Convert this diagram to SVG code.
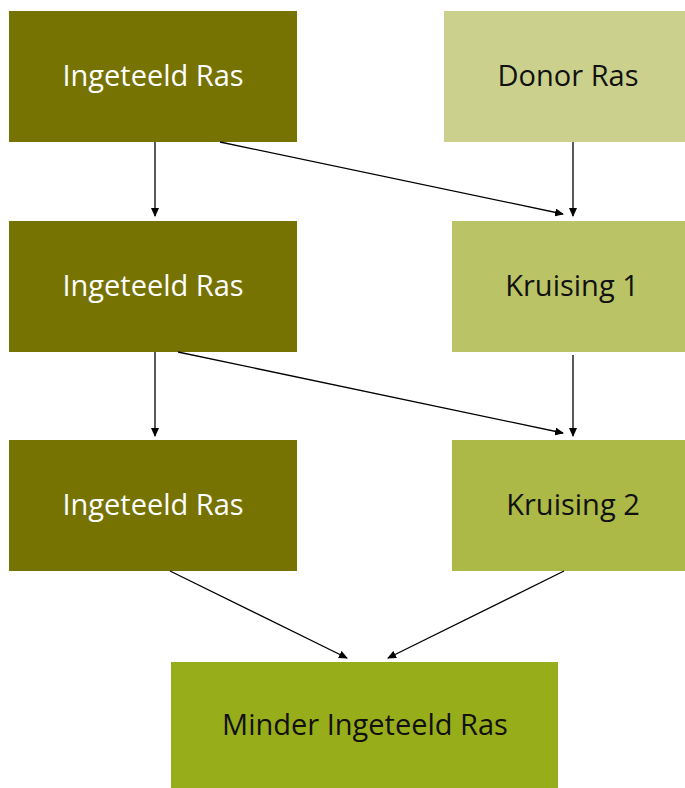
<svg xmlns="http://www.w3.org/2000/svg" width="685" height="788" viewBox="0 0 685 788">
<style>
.lbl{font-family:"Open Sans","Liberation Sans",sans-serif;font-size:29px;text-anchor:middle;dominant-baseline:central}
.w{fill:#ffffff}.k{fill:#111111}
.c{stroke:#000;stroke-width:1.3;fill:none;marker-end:url(#ah)}
</style>
<defs>
<marker id="ah" markerWidth="9" markerHeight="8" refX="8" refY="4" orient="auto" markerUnits="userSpaceOnUse">
<path d="M0,0 L9,4 L0,8 z" fill="#000"/>
</marker>
</defs>
<rect width="685" height="788" fill="#fff"/>
<g id="n1"><rect x="9" y="11" width="288" height="131" fill="#767303"/><text class="lbl w" x="153" y="74">Ingeteeld Ras</text></g>
<g id="n2"><rect x="444" y="11" width="241" height="131" fill="#cbd18c"/><text class="lbl k" x="568" y="74">Donor Ras</text></g>
<g id="n3"><rect x="9" y="221" width="288" height="131" fill="#767303"/><text class="lbl w" x="153" y="284">Ingeteeld Ras</text></g>
<g id="n4"><rect x="452" y="221" width="233" height="131" fill="#bac466"/><text class="lbl k" x="572" y="284">Kruising 1</text></g>
<g id="n5"><rect x="9" y="440" width="288" height="131" fill="#767303"/><text class="lbl w" x="153" y="503">Ingeteeld Ras</text></g>
<g id="n6"><rect x="452" y="440" width="233" height="131" fill="#acb946"/><text class="lbl k" x="573" y="503">Kruising 2</text></g>
<g id="n7"><rect x="171" y="662" width="387" height="126" fill="#98ad1a"/><text class="lbl k" x="365" y="723">Minder Ingeteeld Ras</text></g>
<g id="connectors">
<line class="c" x1="155" y1="142" x2="155" y2="216"/>
<line class="c" x1="220" y1="142" x2="563" y2="214"/>
<line class="c" x1="573" y1="142" x2="573" y2="216"/>
<line class="c" x1="155" y1="352" x2="155" y2="436"/>
<line class="c" x1="178" y1="352" x2="563" y2="433"/>
<line class="c" x1="573" y1="355" x2="573" y2="436"/>
<line class="c" x1="170" y1="571" x2="347" y2="658"/>
<line class="c" x1="564" y1="571" x2="388" y2="658"/>
</g>
</svg>
